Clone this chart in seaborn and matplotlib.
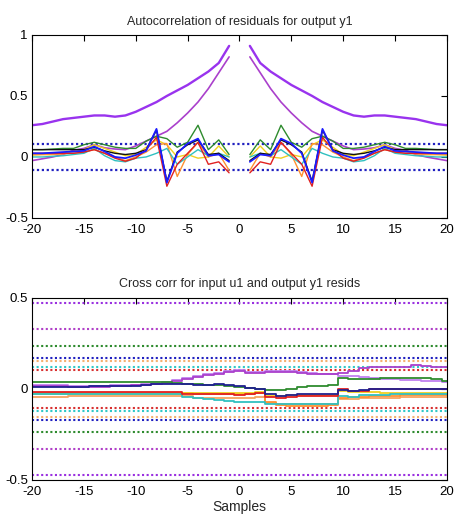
import numpy as np
import pandas as pd
import matplotlib
matplotlib.use("Agg")
import matplotlib.pyplot as plt
import seaborn as sns

# lags 1..20 of the residual autocorrelation (the curve is symmetric around 0)
pos_lags = list(range(1, 21))
acf_purple = [0.91, 0.77, 0.70, 0.645, 0.59, 0.545, 0.50, 0.45, 0.41, 0.37,
              0.34, 0.33, 0.34, 0.34, 0.33, 0.32, 0.31, 0.29, 0.27, 0.26]
acf_magenta = [0.82, 0.69, 0.56, 0.45, 0.36, 0.28, 0.21, 0.17, 0.13, 0.09,
               0.06, 0.065, 0.075, 0.10, 0.07, 0.055, 0.02, 0.0, -0.015, -0.03]
acf_green = [0.02, 0.14, 0.06, 0.26, 0.12, 0.08, 0.15, 0.17, 0.13, 0.07,
             0.07, 0.08, 0.10, 0.12, 0.10, 0.07, 0.07, 0.065, 0.06, 0.06]
acf_yellow = [0.0, 0.09, 0.0, -0.01, 0.02, 0.0, 0.10, 0.14, 0.08, 0.02,
              0.01, 0.04, 0.07, 0.10, 0.06, 0.045, 0.03, 0.02, 0.02, 0.015]
acf_orange = [-0.11, 0.03, 0.0, 0.12, 0.02, -0.16, 0.11, 0.10, 0.04, 0.0,
              -0.03, 0.0, 0.03, 0.06, 0.04, 0.03, 0.025, 0.02, 0.02, 0.02]
acf_cyan = [0.0, 0.03, 0.01, 0.06, 0.0, -0.06, 0.07, 0.03, 0.0, -0.01,
            -0.04, -0.03, 0.01, 0.07, 0.03, 0.02, 0.01, 0.005, 0.0, 0.0]
acf_black = [-0.03, 0.03, 0.02, 0.14, 0.10, 0.04, -0.20, 0.22, 0.06, 0.03,
             0.02, 0.03, 0.05, 0.08, 0.06, 0.06, 0.06, 0.06, 0.06, 0.06]
acf_red = [-0.13, -0.04, -0.06, 0.12, 0.03, -0.06, -0.24, 0.16, 0.06, -0.01,
           -0.035, -0.01, 0.03, 0.06, 0.04, 0.03, 0.03, 0.03, 0.03, 0.03]
acf_blue = [-0.04, 0.02, 0.01, 0.15, 0.11, 0.03, -0.21, 0.23, 0.05, 0.015,
            -0.01, 0.0, 0.045, 0.085, 0.05, 0.045, 0.04, 0.035, 0.03, 0.03]
acf_conf = 0.11

# cross correlation, lags -20..20
lags = list(range(-20, 21))
cc_lavender = [0.02, 0.02, 0.02, 0.02, 0.015, 0.015, 0.015, 0.015, 0.02, 0.02, 0.02, 0.025,
               0.03, 0.04, 0.05, 0.06, 0.07, 0.08, 0.09, 0.10, 0.105,
               0.095, 0.095, 0.10, 0.10, 0.10, 0.095, 0.09, 0.085, 0.08, 0.07,
               0.07, 0.065, 0.06, 0.055, 0.055, 0.05, 0.05, 0.045, 0.045, 0.04]
cc_magenta = [0.015, 0.015, 0.015, 0.015, 0.01, 0.01, 0.01, 0.01, 0.015, 0.015, 0.02, 0.02,
              0.025, 0.035, 0.045, 0.055, 0.065, 0.075, 0.085, 0.095, 0.10,
              0.09, 0.09, 0.095, 0.095, 0.095, 0.09, 0.085, 0.085, 0.085, 0.09,
              0.10, 0.115, 0.12, 0.12, 0.12, 0.12, 0.13, 0.125, 0.12, 0.12]
cc_green = [0.04, 0.04, 0.04, 0.04, 0.04, 0.04, 0.04, 0.04, 0.04, 0.04, 0.04, 0.04,
            0.04, 0.04, 0.035, 0.03, 0.025, 0.02, 0.02, 0.015, 0.01,
            0.005, 0.0, -0.005, -0.005, 0.0, 0.01, 0.015, 0.015, 0.02, 0.06,
            0.055, 0.055, 0.055, 0.058, 0.058, 0.058, 0.058, 0.058, 0.055, 0.045]
cc_navy = [0.01, 0.012, 0.012, 0.012, 0.012, 0.012, 0.015, 0.015, 0.015, 0.015, 0.015, 0.02,
           0.025, 0.025, 0.025, 0.025, 0.02, 0.02, 0.025, 0.02, 0.015,
           0.005, 0.0, -0.03, -0.04, -0.035, -0.03, -0.03, -0.03, -0.03, -0.005,
           -0.01, -0.005, 0.0, 0.0, 0.0, 0.0, 0.0, 0.0, 0.0, -0.002]
cc_red = [-0.015, -0.015, -0.015, -0.015, -0.015, -0.015, -0.015, -0.015, -0.015, -0.015, -0.015, -0.015,
          -0.015, -0.015, -0.015, -0.025, -0.025, -0.025, -0.025, -0.03, -0.035,
          -0.025, -0.02, -0.045, -0.05, -0.045, -0.04, -0.04, -0.04, -0.04, 0.0,
          -0.01, -0.01, 0.0, 0.0, 0.0, 0.0, 0.0, 0.0, 0.0, 0.0]
cc_yellow = [-0.025, -0.025, -0.025, -0.03, -0.03, -0.03, -0.03, -0.03, -0.03, -0.03, -0.03, -0.03,
             -0.03, -0.03, -0.025, -0.02, -0.02, -0.02, -0.02, -0.02, -0.02,
             -0.02, -0.015, -0.04, -0.04, -0.035, -0.035, -0.035, -0.035, -0.035, -0.01,
             -0.015, -0.015, -0.015, -0.02, -0.02, -0.02, -0.02, -0.02, -0.02, -0.02]
cc_orange = [-0.02, -0.02, -0.02, -0.02, -0.02, -0.02, -0.02, -0.02, -0.02, -0.02, -0.02, -0.02,
             -0.02, -0.02, -0.02, -0.02, -0.03, -0.03, -0.03, -0.03, -0.03,
             -0.03, -0.02, -0.07, -0.09, -0.095, -0.095, -0.095, -0.095, -0.09, -0.05,
             -0.045, -0.045, -0.04, -0.04, -0.04, -0.035, -0.035, -0.035, -0.035, -0.035]
cc_sandy = [-0.045, -0.045, -0.045, -0.045, -0.04, -0.04, -0.04, -0.04, -0.04, -0.04, -0.04, -0.04,
            -0.04, -0.04, -0.04, -0.04, -0.05, -0.05, -0.05, -0.05, -0.05,
            -0.05, -0.045, -0.075, -0.085, -0.085, -0.085, -0.085, -0.085, -0.08, -0.055,
            -0.055, -0.05, -0.05, -0.05, -0.05, -0.045, -0.045, -0.045, -0.045, -0.045]
cc_cyan = [-0.03, -0.03, -0.03, -0.03, -0.03, -0.03, -0.03, -0.03, -0.03, -0.03, -0.03, -0.03,
           -0.03, -0.03, -0.03, -0.045, -0.05, -0.055, -0.06, -0.065, -0.07,
           -0.07, -0.07, -0.08, -0.085, -0.085, -0.085, -0.085, -0.085, -0.085, -0.04,
           -0.045, -0.035, -0.035, -0.035, -0.03, -0.03, -0.03, -0.025, -0.025, -0.025]
cc_conf_levels = [0.475, 0.33, 0.235, 0.17, 0.155, 0.12, 0.105]
cc_conf_colors = ["#9a30e0", "#b040c8", "#2e8b2e", "#2020c0", "#f4b070", "#30c8c8", "#d83030"]

col = {"purple": "#9933ee", "magenta": "#aa40cc", "green": "#2e8b2e", "yellow": "#f0d020",
       "orange": "#ff9030", "cyan": "#30c0c0", "black": "#101010", "red": "#e02020",
       "blue": "#1a1aff", "lavender": "#c080f0", "navy": "#202090", "sandy": "#f4a460"}

acf_series = {"purple": acf_purple, "magenta": acf_magenta, "green": acf_green,
              "yellow": acf_yellow, "orange": acf_orange, "cyan": acf_cyan,
              "black": acf_black, "red": acf_red, "blue": acf_blue}
rows = []
for name, vals in acf_series.items():
    for lag, v in zip(pos_lags, vals):
        rows.append((name, "pos", lag, v))
        rows.append((name, "neg", -lag, v))
acf_df = pd.DataFrame(rows, columns=["series", "side", "lag", "value"])

cc_series = {"lavender": cc_lavender, "magenta": cc_magenta, "green": cc_green,
             "sandy": cc_sandy, "orange": cc_orange, "yellow": cc_yellow,
             "cyan": cc_cyan, "red": cc_red, "navy": cc_navy}
cc_df = pd.DataFrame([(name, lag, v) for name, vals in cc_series.items()
                      for lag, v in zip(lags, vals)],
                     columns=["series", "lag", "value"])

sns.set_style("white")
plt.rcParams["font.family"] = ["Liberation Sans", "DejaVu Sans"]
plt.rcParams["axes.unicode_minus"] = False

fig = plt.figure(figsize=(4.54, 5.26), dpi=100)
ax1 = fig.add_axes([0.0705, 0.5856, 0.914, 0.348])
ax2 = fig.add_axes([0.0705, 0.0875, 0.914, 0.346])

# autocorrelation
for lvl in (acf_conf, -acf_conf):
    ax1.axhline(lvl, color="#2020c0", lw=1.6, ls=(0, (1, 1.2)), zorder=1)
sns.lineplot(data=acf_df, x="lag", y="value", hue="series", units="side",
             estimator=None, palette=col, hue_order=list(acf_series),
             legend=False, lw=1.0, ax=ax1)
for ln in ax1.lines[2:4]:
    ln.set_linewidth(1.7)
for ln in ax1.lines[4:6]:
    ln.set_linewidth(1.2)
for ln in ax1.lines[-2:]:
    ln.set_linewidth(1.3)
ax1.set_xlim(-20, 20)
ax1.set_ylim(-0.5, 1)
ax1.set_xticks(range(-20, 21, 5))
ax1.set_yticks([-0.5, 0, 0.5, 1])
ax1.set_yticklabels(["-0.5", "0", "0.5", "1"])
ax1.set_title("Autocorrelation of residuals for output y1", fontsize=9, pad=7)

# cross correlation
for lvl, c in zip(cc_conf_levels, cc_conf_colors):
    for s in (1, -1):
        ax2.axhline(s * lvl, color=c, lw=1.5, ls=(0, (1, 1.2)), zorder=1)
sns.lineplot(data=cc_df, x="lag", y="value", hue="series", estimator=None,
             palette=col, hue_order=list(cc_series), legend=False, lw=1.3,
             drawstyle="steps-mid", ax=ax2)
ax2.set_xlim(-20, 20)
ax2.set_ylim(-0.5, 0.5)
ax2.set_xticks(range(-20, 21, 5))
ax2.set_yticks([-0.5, 0, 0.5])
ax2.set_yticklabels(["-0.5", "0", "0.5"])
ax2.set_title("Cross corr for input u1 and output y1 resids", fontsize=9, pad=8)
ax2.set_xlabel("Samples", fontsize=10, labelpad=2)

for ax in (ax1, ax2):
    ax.set_ylabel("")
    if ax is ax1:
        ax.set_xlabel("")
    for sp in ax.spines.values():
        sp.set_color("black")
        sp.set_linewidth(0.8)
    ax.tick_params(direction="in", top=True, right=True, length=4, width=0.8,
                   labelsize=9.5, colors="black")
    ax.tick_params(axis="x", pad=4)
    ax.tick_params(axis="y", pad=3)

fig.savefig("out.png", dpi=100)
